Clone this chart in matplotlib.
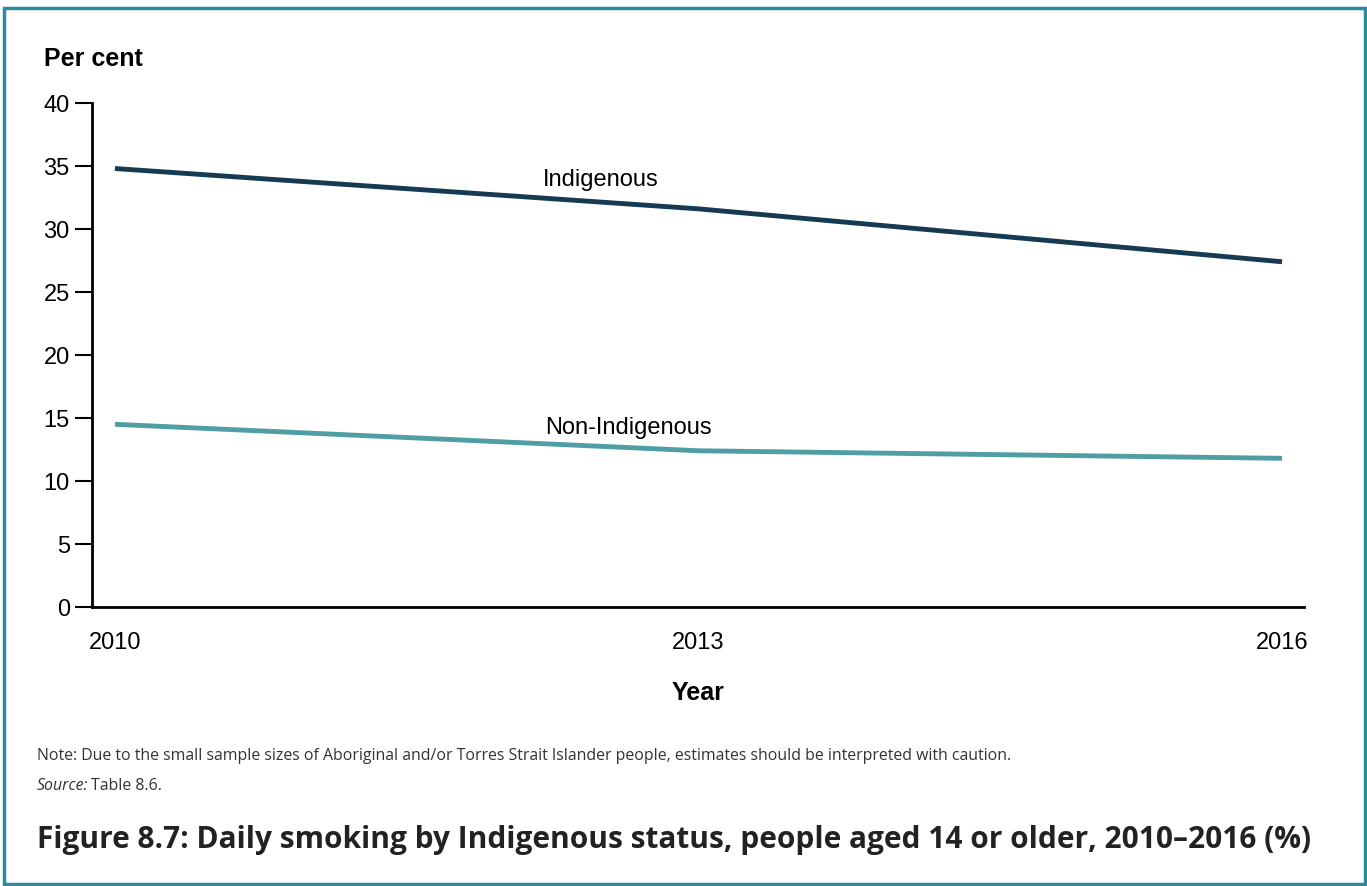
import matplotlib.pyplot as plt
from matplotlib.patches import Rectangle

years = [2010, 2013, 2016]
indigenous = [34.8, 31.6, 27.4]
non_indigenous = [14.5, 12.4, 11.8]
yticks = [0, 5, 10, 15, 20, 25, 30, 35, 40]

W, H = 1367, 887
plt.rcParams['font.family'] = ['Liberation Sans', 'DejaVu Sans']

fig = plt.figure(figsize=(W / 100, H / 100), dpi=100)
# axes placed in pixel terms: x 92..1304, y 104..608
ax = fig.add_axes([92 / W, 1 - 608 / H, (1304 - 92) / W, (608 - 104) / H])

ax.plot(years, indigenous, color='#163a52', lw=3.5, solid_capstyle='butt')
ax.plot(years, non_indigenous, color='#4f9ea4', lw=3.5, solid_capstyle='butt')

# series labels
ax.text(2013 - 0.5, 34.0, 'Indigenous', fontsize=17, ha='center', va='center')
ax.text(2013 - 0.36, 14.3, 'Non-Indigenous', fontsize=17, ha='center', va='center')

ax.set_xlim(2009.882, 2016.113)
ax.set_ylim(0, 40)
ax.set_yticks(yticks)
ax.set_xticks(years)
ax.tick_params(axis='y', length=12, width=1.5, labelsize=17, pad=4)
ax.tick_params(axis='x', length=0, labelsize=17, pad=17)
for s in ['top', 'right']:
    ax.spines[s].set_visible(False)
for s in ['left', 'bottom']:
    ax.spines[s].set_linewidth(2)

ax.set_xlabel('Year', fontsize=18, fontweight='bold', labelpad=20)
fig.text(44 / W, 1 - 59 / H, 'Per cent', fontsize=18, fontweight='bold', va='center')

fig.text(37 / W, 1 - 756 / H,
         'Note: Due to the small sample sizes of Aboriginal and/or Torres Strait Islander people, '
         'estimates should be interpreted with caution.',
         fontsize=11.4, family='Open Sans', color='#333333', va='center')
fig.text(37 / W, 1 - 786 / H, 'Source:', fontsize=11.4, family='Open Sans',
         style='italic', color='#333333', va='center')
fig.text(91 / W, 1 - 786 / H, 'Table 8.6.', fontsize=11.4, family='Open Sans',
         color='#333333', va='center')
fig.text(37 / W, 1 - 840 / H,
         'Figure 8.7: Daily smoking by Indigenous status, people aged 14 or older, 2010\u20132016 (%)',
         fontsize=21.5, family='Open Sans', fontweight='bold', color='#222222', va='center')

fig.patches.append(Rectangle((4 / W, 1 - 885 / H), (1365 - 4) / W, (885 - 9) / H,
                             transform=fig.transFigure, fill=False,
                             edgecolor='#2e8a9e', lw=2.5))

fig.savefig('out.png', dpi=100)
